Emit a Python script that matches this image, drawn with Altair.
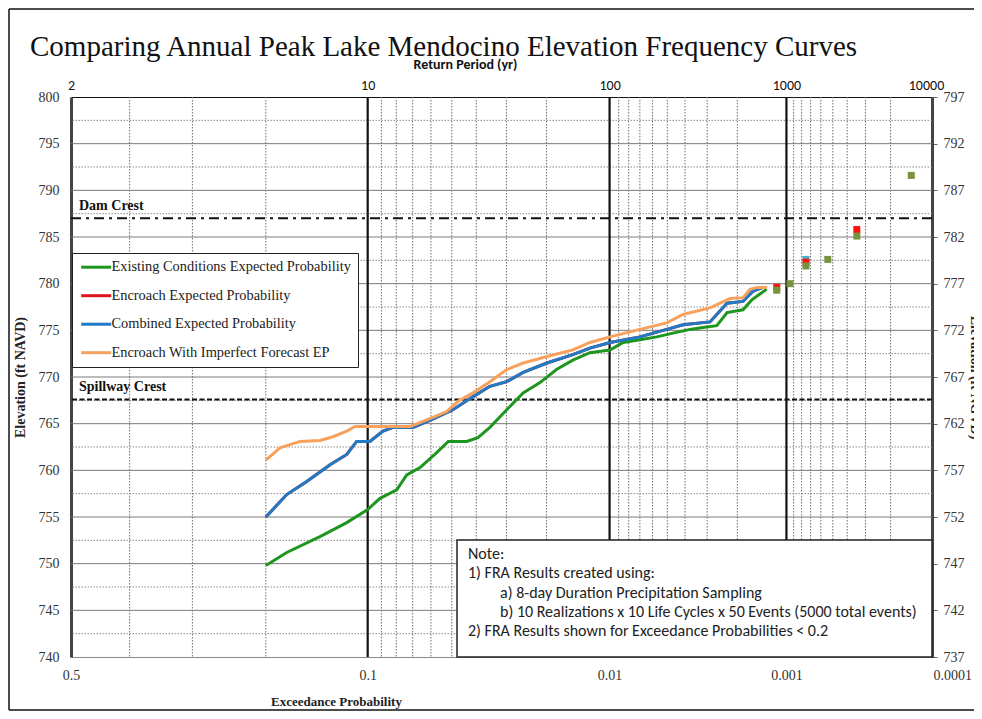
import altair as alt
import pandas as pd
from statistics import NormalDist

SERIF = "Liberation Serif, Times New Roman, serif"
SANS = "Carlito, Lato, Open Sans, sans-serif"

TITLE = "Comparing Annual Peak Lake Mendocino Elevation Frequency Curves"

series_names = [
    "Existing Conditions Expected Probability",
    "Encroach Expected Probability",
    "Combined Expected Probability",
    "Encroach With Imperfect Forecast EP",
]
series_colors = ["#1e961e", "#e0141e", "#1f7bc6", "#f7a15c"]

# exceedance probability / elevation (ft NAVD)
p_existing = [0.2000, 0.1757, 0.1411, 0.1168, 0.1000, 0.0910, 0.0797, 0.0735, 0.0658, 0.0571,
              0.0516, 0.0437, 0.0394, 0.0352, 0.0299, 0.0254, 0.0214, 0.0180, 0.0151, 0.0125,
              0.00995, 0.00855, 0.00699, 0.00570, 0.00466, 0.00375, 0.00317, 0.00264, 0.00230,
              0.00185, 0.00163, 0.00133]
elev_existing = [749.8, 751.2, 752.9, 754.4, 755.8, 757.0, 757.9, 759.5, 760.3, 761.9,
                 763.1, 763.1, 763.5, 764.6, 766.5, 768.3, 769.4, 770.8, 771.8, 772.6,
                 772.9, 773.7, 774.0, 774.3, 774.7, 775.1, 775.3, 775.5, 776.9,
                 777.2, 778.3, 779.4]

p_combined = [0.2000, 0.1757, 0.1543, 0.1316, 0.1168, 0.1086, 0.0983, 0.0889, 0.0821, 0.0698,
              0.0589, 0.0495, 0.0412, 0.0352, 0.0299, 0.0254, 0.0199, 0.0151, 0.0125, 0.00995,
              0.00699, 0.00504, 0.00410, 0.00289, 0.00230, 0.00185, 0.00161, 0.00140]
elev_combined = [755.0, 757.4, 758.8, 760.6, 761.7, 763.1, 763.1, 764.2, 764.6, 764.6,
                 765.5, 766.5, 767.9, 769.0, 769.5, 770.5, 771.5, 772.4, 773.1, 773.7,
                 774.3, 775.1, 775.6, 775.9, 777.9, 778.1, 779.2, 779.6]

p_encroach = list(p_combined)
elev_encroach = list(elev_combined)

p_forecast = [0.2000, 0.1833, 0.1613, 0.1411, 0.1289, 0.1168, 0.1100, 0.0715, 0.0622, 0.0523,
              0.0473, 0.0412, 0.0352, 0.0299, 0.0254, 0.0199, 0.0151, 0.0125, 0.00995, 0.00699,
              0.00504, 0.00410, 0.00289, 0.00221, 0.00185, 0.00168, 0.00152, 0.00132]
elev_forecast = [761.1, 762.4, 763.1, 763.2, 763.6, 764.2, 764.7, 764.7, 765.4, 766.3,
                 767.4, 768.3, 769.5, 770.8, 771.5, 772.2, 772.9, 773.7, 774.3, 775.1,
                 775.8, 776.7, 777.4, 778.4, 778.5, 779.4, 779.6, 779.6]

# individual plotted events at the rare end
pt_p_existing = [0.00115, 0.00095, 0.00075, 0.00054, 0.000344, 0.000142]
pt_e_existing = [779.3, 780.0, 781.9, 782.6, 785.1, 791.6]
pt_p_encroach = [0.00115, 0.00075, 0.000344]
pt_e_encroach = [779.6, 782.3, 785.8]
pt_p_combined = [0.00075]
pt_e_combined = [782.6]

crest_names = ["Dam Crest", "Spillway Crest"]
crest_elev = [787.0, 767.6]

x_tick_p = [0.5, 0.1, 0.01, 0.001, 0.0001]
grid_major_p = [0.1, 0.01, 0.001]
grid_minor_p = [0.4, 0.3, 0.2,
                0.09, 0.08, 0.07, 0.06, 0.05, 0.04, 0.03, 0.02,
                0.009, 0.008, 0.007, 0.006, 0.005, 0.004, 0.003, 0.002,
                0.0009, 0.0008, 0.0007, 0.0006, 0.0005, 0.0004, 0.0003, 0.0002]
y_ticks = [740, 745, 750, 755, 760, 765, 770, 775, 780, 785, 790, 795, 800]
y_major_grid = [745, 750, 755, 760, 765, 770, 775, 780, 785, 790, 795]
y_minor_grid = [742.5, 747.5, 752.5, 757.5, 762.5, 767.5, 772.5, 777.5, 782.5, 787.5, 792.5, 797.5]
ngvd_ticks = [737, 742, 747, 752, 757, 762, 767, 772, 777, 782, 787, 792, 797]

note_lines = [
    "Note:",
    "1) FRA Results created using:",
    "a) 8-day Duration Precipitation Sampling",
    "b) 10 Realizations x 10 Life Cycles x 50 Events (5000 total events)",
    "2) FRA Results shown for Exceedance Probabilities < 0.2",
]
note_indent = [0, 0, 1, 1, 0]

# ---------------------------------------------------------------- scales
nd = NormalDist()
z_max = nd.inv_cdf(1 - min(x_tick_p))
z_ticks = [nd.inv_cdf(1 - p) for p in x_tick_p]
ZCALC = "quantileNormal(1 - datum.p)"

W, H = 861, 560
xscale = alt.Scale(domain=[0, z_max], nice=False, zero=False)
yscale = alt.Scale(domain=[740, 800], nice=False, zero=False)


def X(axis=None):
    return alt.X("z:Q", scale=xscale, axis=axis)


def Y(field, axis=None):
    return alt.Y(field, scale=yscale, axis=axis)


LAST = "datum.value > 3.7"

bottom_axis = alt.Axis(
    orient="bottom", values=z_ticks,
    labelExpr="format(1 - cumulativeNormal(datum.value), '.1~g')",
    title="Exceedance Probability", grid=False, ticks=False, domainColor="#8a8a8a",
    labelFont=SERIF, labelFontSize=14, labelColor="#333333", labelPadding=11, labelFlush=False,
    labelAlign={"condition": {"test": LAST, "value": "left"}, "value": "center"},
    labelOffset={"condition": {"test": LAST, "value": 1}, "value": 0},
    titleFont=SERIF, titleFontSize=13, titleFontWeight="bold", titleColor="#222222",
    titleX=265, titleY=44, titleBaseline="middle",
)
top_axis = alt.Axis(
    orient="top", values=z_ticks,
    labelExpr="format(round(1 / (1 - cumulativeNormal(datum.value))), 'd')",
    title="Return Period (yr)", grid=False, ticks=False, domainColor="#111111",
    labelFont=SANS, labelFontSize=14, labelColor="#111111", labelPadding=5, labelFlush=False,
    labelOffset={"condition": {"test": LAST, "value": -6}, "value": 0},
    titleFont=SANS, titleFontSize=14, titleFontWeight="bold", titleColor="#111111",
    titleX=394, titleY=-33, titleBaseline="middle",
)
left_axis = alt.Axis(
    orient="left", values=y_ticks, title="Elevation (ft NAVD)", grid=False, ticks=False,
    domainColor="#444444", domainWidth=3, labelFont=SERIF, labelFontSize=14,
    labelColor="#333333", labelPadding=12,
    titleFont=SERIF, titleFontSize=14, titleFontWeight="bold", titleColor="#222222",
    titleX=-51, titleY=H / 2, titleBaseline="middle",
)
right_axis = alt.Axis(
    orient="right", values=ngvd_ticks, title="Elevation (ft NGVD)", grid=False,
    ticks=True, tickSize=5, tickColor="#666666", domainColor="#444444", domainWidth=3,
    labelFont=SERIF, labelFontSize=14, labelColor="#333333", labelPadding=6,
    titleFont=SERIF, titleFontSize=14, titleFontWeight="bold", titleColor="#222222",
    titleX=42, titleY=H / 2, titleBaseline="middle",
)

# ---------------------------------------------------------------- data tables
lines_df = pd.concat([
    pd.DataFrame({"p": p_existing, "elev": elev_existing, "series": series_names[0]}),
    pd.DataFrame({"p": p_encroach, "elev": elev_encroach, "series": series_names[1]}),
    pd.DataFrame({"p": p_combined, "elev": elev_combined, "series": series_names[2]}),
    pd.DataFrame({"p": p_forecast, "elev": elev_forecast, "series": series_names[3]}),
], ignore_index=True)

one = pd.DataFrame({"k": [0]})

legend = alt.Legend(
    orient="none", legendX=1, legendY=156, title=None,
    strokeColor="#222222", fillColor="white", padding=7, rowPadding=13.5,
    labelFont=SERIF, labelFontSize=14.4, labelColor="#222222", labelLimit=0, labelOffset=8,
    symbolType="M-3,0H3", symbolSize=100, symbolStrokeWidth=3, symbolOffset=10,
)
color = alt.Color("series:N", scale=alt.Scale(domain=series_names, range=series_colors),
                  legend=legend)

# ---------------------------------------------------------------- layers
minor_v = alt.Chart(pd.DataFrame({"p": grid_minor_p})).mark_rule(
    color="#6e6e6e", strokeWidth=1, strokeDash=[1.5, 1.5]
).encode(x=X(bottom_axis)).transform_calculate(z=ZCALC)

major_v = alt.Chart(pd.DataFrame({"p": grid_major_p})).mark_rule(
    color="#111111", strokeWidth=2.2
).encode(x=X()).transform_calculate(z=ZCALC)

minor_h = alt.Chart(pd.DataFrame({"gy": y_minor_grid})).mark_rule(
    color="#8a8a8a", strokeWidth=1, strokeDash=[1.5, 1.5]
).encode(y=Y("gy:Q"))

major_h = alt.Chart(pd.DataFrame({"gy": y_major_grid})).mark_rule(
    color="#7a7a7a", strokeWidth=1
).encode(y=Y("gy:Q", left_axis))

crest_df = pd.DataFrame({"name": crest_names, "elev": crest_elev, "p": [0.5, 0.5]})
dam_line = alt.Chart(crest_df).transform_filter(alt.datum.name == crest_names[0]).mark_rule(
    color="#111111", strokeWidth=2, strokeDash=[10, 5, 3, 5]
).encode(y=Y("elev:Q"))
spill_line = alt.Chart(crest_df).transform_filter(alt.datum.name == crest_names[1]).mark_rule(
    color="#111111", strokeWidth=2, strokeDash=[5, 2.5]
).encode(y=Y("elev:Q"))
crest_text = alt.Chart(crest_df).mark_text(
    align="left", baseline="middle", dx=8, dy=-12, font=SERIF, fontSize=14,
    fontWeight="bold", color="#111111"
).encode(x=X(), y=Y("elev:Q"), text="name:N").transform_calculate(z=ZCALC)


def series_line(i):
    return alt.Chart(lines_df).transform_filter(
        alt.datum.series == series_names[i]
    ).transform_calculate(z=ZCALC).mark_line(strokeWidth=3).encode(
        x=X(), y=Y("elev:Q"), color=color, order="z:Q"
    )


def squares(ps, es, col):
    return alt.Chart(pd.DataFrame({"p": ps, "elev": es})).transform_calculate(
        z=ZCALC).mark_square(size=49, opacity=1, color=col).encode(x=X(), y=Y("elev:Q"))


note_box = alt.Chart(one).mark_rect(
    fill="white", stroke="#222222", strokeWidth=1.5
).encode(x=alt.value(386), x2=alt.value(W), y=alt.value(443), y2=alt.value(H))

note_texts = [
    alt.Chart(one).mark_text(
        text=t, align="left", baseline="middle", font=SANS, fontSize=16, color="#222222"
    ).encode(x=alt.value(397 + 32 * ind), y=alt.value(457 + 19.3 * k))
    for k, (t, ind) in enumerate(zip(note_lines, note_indent))
]

frame = [
    alt.Chart(one).mark_rule(color="#111111", strokeWidth=1.5).encode(
        x=alt.value(-62), y=alt.value(-88), y2=alt.value(613)),
    alt.Chart(one).mark_rule(color="#111111", strokeWidth=1.5).encode(
        x=alt.value(-62), x2=alt.value(905), y=alt.value(-88)),
    alt.Chart(one).mark_rule(color="#111111", strokeWidth=1.5).encode(
        x=alt.value(-62), x2=alt.value(905), y=alt.value(613)),
]

side = alt.Chart(pd.DataFrame({"p": [0.5, 0.0001], "ngvd": [737, 797]})).transform_calculate(
    z=ZCALC
).mark_point(opacity=0).encode(
    x=X(top_axis),
    y=alt.Y("ngvd:Q", scale=alt.Scale(domain=[737, 797], nice=False, zero=False),
            axis=right_axis),
)

chart = alt.layer(
    minor_h, major_h, minor_v, major_v, dam_line, spill_line, crest_text,
    series_line(1), series_line(0), series_line(2), series_line(3),
    squares(pt_p_combined, pt_e_combined, "#4bacc6"),
    squares(pt_p_encroach, pt_e_encroach, "#ff1010"),
    squares(pt_p_existing, pt_e_existing, "#77933c"),
    note_box, *note_texts, *frame, side,
).resolve_scale(y="independent").resolve_axis(
    x="independent", y="independent"
).properties(
    width=W, height=H,
    autosize=alt.AutoSizeParams(type="none"),
    padding={"left": 63, "top": 89, "right": 42, "bottom": 54},
    title=alt.TitleParams(
        text=TITLE, font=SERIF, fontSize=29, fontWeight="normal", color="#111111",
        anchor="start", frame="group", dx=-41, offset=-54,
    ),
).configure_view(stroke=None)

chart.save("out.html", embed_options={"renderer": "svg", "actions": False})
